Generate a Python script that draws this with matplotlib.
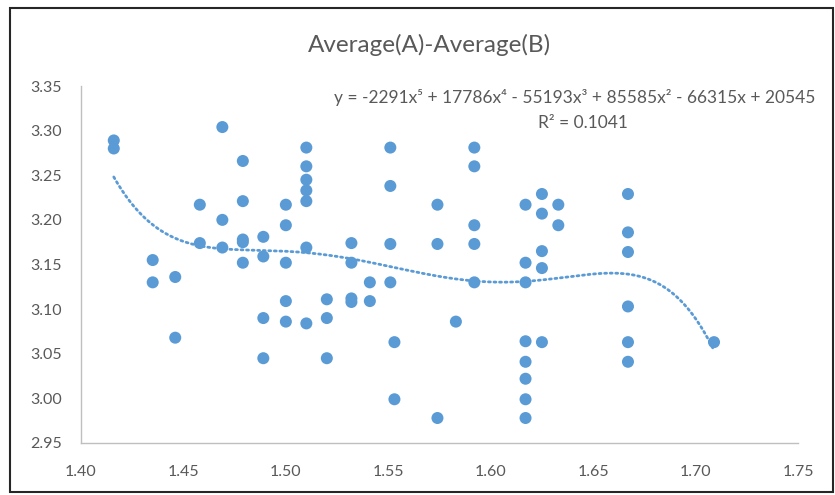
import numpy as np
import matplotlib
matplotlib.use("Agg")
import matplotlib.pyplot as plt
from matplotlib.patches import Rectangle

plt.rcParams['font.family'] = ['Lato', 'DejaVu Sans']

title = "Average(A)-Average(B)"
equation = "y = -2291x\u2075 + 17786x\u2074 - 55193x\u00b3 + 85585x\u00b2 - 66315x + 20545"
r2_text = "R\u00b2 = 0.1041"

x_vals = [1.416, 1.416, 1.435, 1.435, 1.446, 1.446, 1.458, 1.458, 1.469, 1.469,
          1.469, 1.479, 1.479, 1.479, 1.479, 1.479, 1.489, 1.489, 1.489, 1.489,
          1.500, 1.500, 1.500, 1.500, 1.500, 1.510, 1.510, 1.510, 1.510, 1.510,
          1.510, 1.510, 1.520, 1.520, 1.520, 1.532, 1.532, 1.532, 1.532, 1.541,
          1.541, 1.551, 1.551, 1.551, 1.551, 1.553, 1.553, 1.574, 1.574, 1.574,
          1.583, 1.592, 1.592, 1.592, 1.592, 1.592, 1.617, 1.617, 1.617, 1.617,
          1.617, 1.617, 1.617, 1.617, 1.625, 1.625, 1.625, 1.625, 1.625, 1.633,
          1.633, 1.667, 1.667, 1.667, 1.667, 1.667, 1.667, 1.709]
y_vals = [3.289, 3.280, 3.155, 3.130, 3.136, 3.068, 3.217, 3.174, 3.304, 3.200,
          3.169, 3.266, 3.221, 3.178, 3.175, 3.152, 3.181, 3.159, 3.090, 3.045,
          3.217, 3.194, 3.152, 3.109, 3.086, 3.281, 3.260, 3.245, 3.233, 3.221,
          3.169, 3.084, 3.111, 3.090, 3.045, 3.174, 3.152, 3.112, 3.108, 3.130,
          3.109, 3.281, 3.238, 3.173, 3.130, 3.063, 2.999, 3.217, 3.173, 2.978,
          3.086, 3.281, 3.260, 3.194, 3.173, 3.130, 3.217, 3.152, 3.130, 3.064,
          3.041, 3.022, 2.999, 2.978, 3.229, 3.207, 3.165, 3.146, 3.063, 3.217,
          3.194, 3.229, 3.186, 3.164, 3.103, 3.063, 3.041, 3.063]

x_ticks = [1.40, 1.45, 1.50, 1.55, 1.60, 1.65, 1.70, 1.75]
y_ticks = [2.95, 3.00, 3.05, 3.10, 3.15, 3.20, 3.25, 3.30, 3.35]

W, H = 835, 495
fig = plt.figure(figsize=(W / 100, H / 100), dpi=100)
ax = fig.add_axes([81 / W, 1 - 443 / H, (798 - 81) / W, (443 - 86) / H])

blue = '#5B9BD5'
gray_txt = '#595959'

ax.scatter(x_vals, y_vals, s=75, color=blue, edgecolors='none', zorder=3)

# polynomial (order 5) trendline fitted to the data
xa = np.array(x_vals)
ya = np.array(y_vals)
coef = np.polyfit(xa, ya, 5)
xs = np.linspace(xa.min(), xa.max(), 300)
ax.plot(xs, np.polyval(coef, xs), color=blue, lw=2.0, linestyle=(0, (0.7, 1.3)),
        dash_capstyle='round', zorder=2)

ax.set_xlim(1.40, 1.75)
ax.set_ylim(2.95, 3.35)
ax.set_xticks(x_ticks)
ax.set_yticks(y_ticks)
ax.set_xticklabels([f"{v:.2f}" for v in x_ticks])
ax.set_yticklabels([f"{v:.2f}" for v in y_ticks])
ax.tick_params(axis='both', length=0, labelsize=11.5, labelcolor=gray_txt)
ax.tick_params(axis='x', pad=16)
ax.tick_params(axis='y', pad=14)
for s in ['top', 'right']:
    ax.spines[s].set_visible(False)
for s in ['left', 'bottom']:
    ax.spines[s].set_color('#BFBFBF')
    ax.spines[s].set_linewidth(1.0)

fig.text(429 / W, 1 - 45 / H, title, ha='center', va='center', fontsize=17.5, color=gray_txt)
fig.text(575 / W, 1 - 97 / H, equation, ha='center', va='center', fontsize=12.5, color=gray_txt)
fig.text(583 / W, 1 - 123 / H, r2_text, ha='center', va='center', fontsize=12.5, color=gray_txt)

# outer chart frame
fig.patches.append(Rectangle((10 / W, 1 - 492 / H), (833 - 10) / W, (492 - 8) / H,
                             transform=fig.transFigure, fill=False,
                             edgecolor='#262626', linewidth=1.5))

fig.savefig('out.png', dpi=100)
